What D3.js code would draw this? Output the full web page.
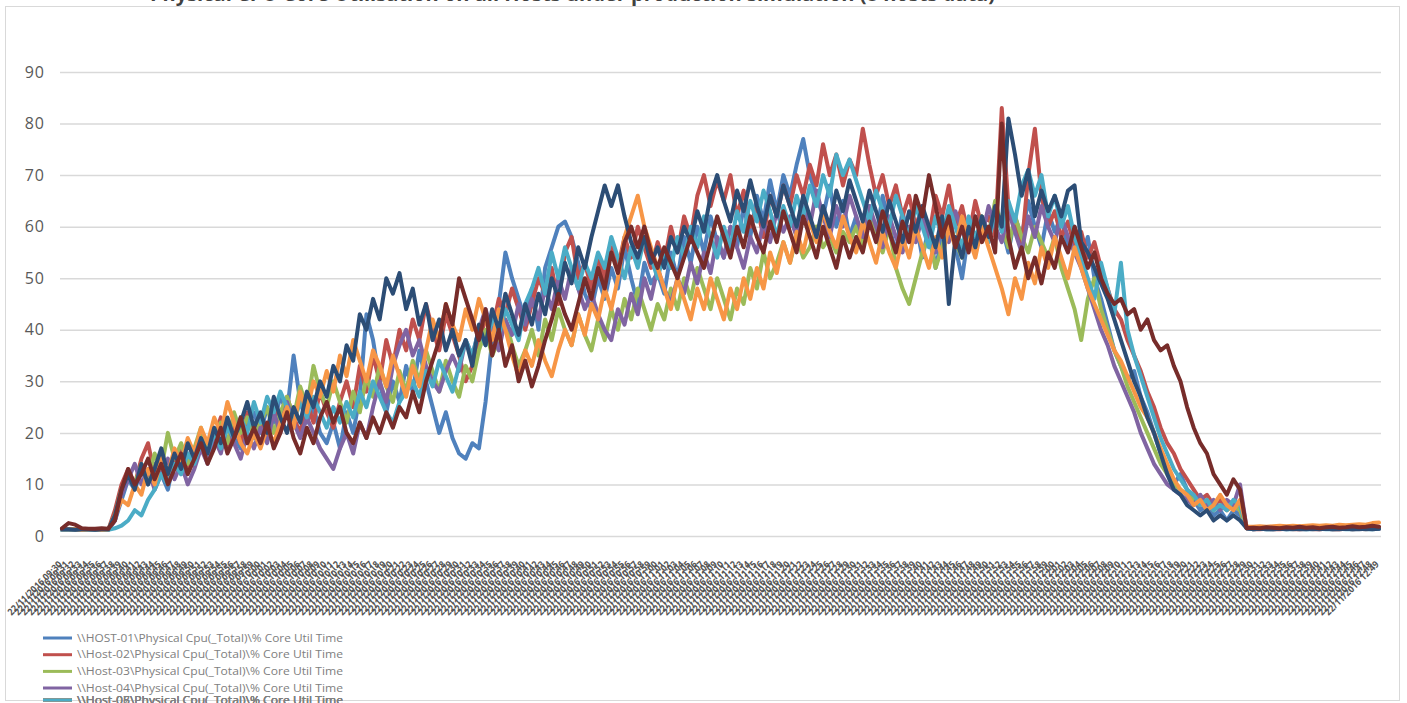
<!DOCTYPE html>
<html><head><meta charset="utf-8">
<script src="https://cdn.jsdelivr.net/npm/d3@7"></script>
<style>
body{margin:0;background:#fff;}
svg{display:block;font-family:"Open Sans",sans-serif;}
</style>
</head><body>
<svg id="chart" width="1407" height="703"></svg>
<script>
const titleText = "Physical CPU Core Utilisation on all Hosts under production simulation (8 hosts data)";
const yTicks = [0,10,20,30,40,50,60,70,80,90];
const seriesNames = [
  "\\\\HOST-01\\Physical Cpu(_Total)\\% Core Util Time",
  "\\\\Host-02\\Physical Cpu(_Total)\\% Core Util Time",
  "\\\\Host-03\\Physical Cpu(_Total)\\% Core Util Time",
  "\\\\Host-04\\Physical Cpu(_Total)\\% Core Util Time",
  "\\\\Host-05\\Physical Cpu(_Total)\\% Core Util Time",
  "\\\\Host-06\\Physical Cpu(_Total)\\% Core Util Time",
  "\\\\Host-07\\Physical Cpu(_Total)\\% Core Util Time",
  "\\\\Host-08\\Physical Cpu(_Total)\\% Core Util Time"
];
const seriesColors = ["#4F81BD","#C0504D","#9BBB59","#8064A2","#4BACC6","#F79646","#2C4D75","#772C2A"];

const host01 = [1.2,1.3,1.2,1.2,1.3,1.2,1.2,1.3,3,7,
 11,9,13,10,14,12,9,15,12,16,
 14,18,15,20,17,22,19,17,21,24,
 20,25,22,27,24,35,26,22,25,20,
 18,22,17,24,20,27,43,38,30,24,
 30,26,33,28,36,30,25,20,24,19,
 16,15,18,17,26,38,45,55,50,46,
 42,48,40,52,56,60,61,58,53,47,
 44,50,46,52,48,56,50,45,53,49,
 51,47,55,50,58,53,60,55,62,57,
 54,60,56,64,58,66,61,69,63,70,
 66,72,77,70,66,62,68,60,65,58,
 62,56,64,58,66,60,55,63,57,61,
 54,60,52,58,63,56,50,59,55,62,
 57,64,60,55,62,58,65,60,56,63,
 59,62,56,60,54,58,50,46,41,36,
 33,30,32,27,24,20,16,13,10,12,
 9,7,5,6,4,5,3,5,4,1.5,
 1.4,1.5,1.4,1.5,1.5,1.4,1.5,1.4,1.5,1.5,
 1.5,1.4,1.5,1.5,1.4,1.5,1.5,1.4,1.5,1.5];
const host02 = [1.3,1.3,1.2,1.3,1.2,1.3,1.3,1.2,5,10,
 13,10,15,18,12,16,11,14,17,13,
 16,20,15,19,23,17,21,18,24,20,
 23,19,25,21,27,23,20,26,22,28,
 24,21,26,30,25,33,28,35,30,38,
 33,40,36,42,38,45,40,36,43,39,
 35,30,33,38,42,40,46,43,48,44,
 40,45,50,47,52,45,55,58,50,53,
 48,54,50,56,52,58,54,60,56,52,
 57,53,60,55,62,58,66,70,64,69,
 65,70,62,67,60,64,58,66,62,68,
 64,70,66,72,68,76,70,74,68,73,
 70,79,72,66,70,64,68,62,66,60,
 64,58,66,62,68,60,64,58,65,60,
 62,58,83,64,60,56,70,79,66,60,
 63,58,61,56,59,54,57,52,48,44,
 42,38,35,32,28,25,21,18,16,13,
 11,9,7,8,6,7,5,6,5,1.5,
 1.3,1.3,1.4,1.3,1.3,1.4,1.3,1.3,1.4,1.3,
 1.3,1.4,1.3,1.3,1.4,1.3,1.4,1.3,1.4,1.4];
const host03 = [1.2,1.2,1.3,1.2,1.2,1.3,1.2,1.2,4,9,
 12,10,14,11,16,13,20,15,18,14,
 17,21,16,19,22,18,24,20,23,19,
 22,25,20,24,27,23,29,25,33,28,
 25,30,26,22,28,24,31,27,33,29,
 26,32,28,34,30,36,32,28,34,30,
 27,33,30,36,40,35,38,42,37,33,
 36,40,35,42,38,44,40,37,43,39,
 36,42,38,44,40,46,42,48,44,40,
 45,42,48,44,50,46,52,48,44,50,
 46,42,48,45,52,48,55,50,53,57,
 53,58,54,56,60,56,58,55,59,57,
 60,56,62,58,55,60,52,48,45,50,
 55,58,52,56,61,57,54,60,56,62,
 58,65,60,56,62,58,55,60,57,54,
 58,52,48,44,38,46,50,44,40,36,
 33,29,26,23,20,17,14,12,10,9,
 8,7,6,7,5,6,5,6,5,1.5,
 1.5,1.4,1.5,1.5,1.4,1.5,1.5,1.4,1.5,1.4,
 1.5,1.5,1.4,1.5,1.5,1.4,1.5,1.5,1.4,1.5];
const host04 = [1.2,1.2,1.2,1.3,1.2,1.2,1.3,1.2,3,8,
 11,14,10,13,9,12,15,11,14,10,
 13,17,14,19,16,22,18,15,20,17,
 21,18,24,20,26,22,19,23,20,17,
 15,13,17,20,16,22,19,25,30,26,
 33,37,40,35,38,33,30,28,32,35,
 32,38,35,40,44,40,36,42,39,45,
 41,46,42,48,44,50,46,52,48,44,
 47,43,40,38,44,41,47,43,50,46,
 52,48,45,50,47,53,49,55,51,58,
 54,60,56,52,58,55,61,57,63,59,
 62,58,65,60,67,62,58,64,60,66,
 62,58,64,60,56,62,58,55,60,57,
 62,58,55,61,57,63,59,56,62,58,
 64,60,57,63,59,55,62,58,64,60,
 57,62,58,55,52,48,44,40,37,33,
 30,27,24,20,17,14,12,10,9,8,
 7,6,8,6,7,5,7,6,10,1.5,
 1.4,1.4,1.5,1.4,1.4,1.5,1.4,1.4,1.5,1.4,
 1.4,1.5,1.4,1.4,1.5,1.4,1.4,1.5,1.4,1.4];
const host05 = [1.2,1.2,1.2,1.2,1.2,1.2,1.2,1.2,1.5,2,
 3,5,4,7,9,12,10,14,12,16,
 14,18,16,20,17,21,19,23,20,26,
 22,27,24,28,25,22,26,23,27,24,
 21,25,22,26,23,28,25,30,27,24,
 22,26,28,30,27,32,29,34,31,28,
 33,38,35,40,37,42,39,44,41,38,
 45,48,52,47,55,50,56,52,48,53,
 50,55,52,58,54,50,56,52,58,54,
 50,55,52,58,54,60,56,62,58,54,
 60,56,63,59,65,61,67,63,58,64,
 60,66,62,68,64,70,66,74,70,73,
 69,65,61,67,63,60,66,62,58,64,
 60,56,62,58,64,60,56,62,58,61,
 57,63,59,65,61,68,71,66,70,62,
 66,60,64,58,54,50,46,53,48,43,
 53,40,35,31,27,23,19,16,13,11,
 9,8,6,7,5,6,5,7,6,1.5,
 1.3,1.4,1.3,1.3,1.4,1.3,1.3,1.4,1.3,1.3,
 1.4,1.3,1.3,1.4,1.3,1.3,1.4,1.3,1.3,1.4];
const host06 = [1.3,1.3,1.3,1.2,1.3,1.3,1.2,1.3,4,7,
 6,10,8,13,10,15,12,17,14,19,
 16,21,18,23,20,26,22,18,16,20,
 17,21,18,22,25,21,28,24,30,27,
 32,28,35,31,38,34,30,36,33,29,
 35,31,27,33,29,36,42,38,45,41,
 38,44,40,46,42,38,44,40,35,31,
 36,33,38,34,31,36,40,37,43,39,
 45,42,48,44,50,58,62,66,60,56,
 52,48,44,50,46,42,48,44,50,46,
 42,48,44,50,46,52,48,55,51,57,
 53,59,55,61,57,63,59,56,62,58,
 55,61,57,53,59,55,52,58,54,60,
 56,52,58,54,60,56,62,58,54,60,
 56,52,48,43,50,46,53,49,56,52,
 58,54,50,56,52,48,45,42,39,36,
 34,31,28,25,23,20,17,14,11,9,
 8,6,7,5,6,8,6,5,7,1.8,
 1.8,1.9,1.8,1.9,2,1.9,2,1.9,2,2.1,
 2,2.1,2,2.2,2.1,2.2,2.3,2.2,2.5,2.6];
const host07 = [1.3,1.3,1.2,1.3,1.3,1.2,1.3,1.3,4,9,
 12,9,14,10,13,17,12,16,13,18,
 15,19,16,21,18,23,19,22,26,21,
 24,20,27,23,20,25,22,28,25,30,
 27,33,30,37,34,43,40,46,42,50,
 47,51,44,48,41,45,38,42,36,40,
 35,38,33,41,37,44,40,47,43,39,
 45,41,47,43,50,46,53,49,56,52,
 58,63,68,64,68,62,57,54,58,53,
 56,52,58,55,60,57,63,59,66,70,
 65,61,67,63,69,64,60,66,62,68,
 64,60,66,62,58,64,60,67,63,69,
 65,61,67,63,59,65,61,57,63,59,
 64,60,56,62,45,58,54,60,56,62,
 58,64,60,81,74,66,71,62,67,63,
 66,62,67,68,57,55,52,49,46,42,
 38,34,30,27,23,20,16,12,9,8,
 6,5,4,5,3,4,3,4,3,1.5,
 1.3,1.4,1.3,1.3,1.4,1.3,1.4,1.3,1.3,1.4,
 1.3,1.4,1.3,1.3,1.4,1.3,1.3,1.4,1.3,1.4];
const host08 = [1.5,2.5,2.2,1.5,1.4,1.4,1.5,1.4,3,9,
 13,10,12,15,11,14,10,13,16,12,
 15,18,14,17,21,16,19,23,18,21,
 18,22,17,20,24,19,16,21,18,23,
 26,22,25,20,18,22,19,23,20,24,
 21,25,23,28,24,30,34,38,45,41,
 50,46,42,38,44,35,40,33,37,30,
 34,29,33,38,42,47,43,40,45,50,
 46,52,48,55,51,57,60,56,60,55,
 52,56,53,50,54,58,55,52,57,62,
 58,54,60,56,62,58,55,61,57,63,
 59,55,62,58,54,60,56,52,58,54,
 58,55,61,57,63,59,55,61,57,66,
 62,70,64,58,62,56,60,55,62,57,
 60,55,80,58,52,56,50,54,49,55,
 52,58,55,60,56,52,55,50,47,45,
 46,43,44,40,42,38,36,37,33,30,
 25,21,18,16,12,10,8,11,9,1.5,
 1.6,1.5,1.7,1.6,1.5,1.7,1.6,1.8,1.6,1.7,
 1.5,1.7,1.8,1.6,1.7,1.9,1.7,1.8,2,1.8];

const seriesValues = [host01, host02, host03, host04, host05, host06, host07, host08];

// sample timestamps (one perfmon sample per minute)
const sampleStart = Date.UTC(2016, 10, 22, 9, 30, 0);
const sampleFmt = d3.utcFormat("%d/%m/%Y %H:%M");
const categories = host01.map((_, i) => sampleFmt(new Date(sampleStart + i * 60000)));

const svg = d3.select("#chart");

// frame
svg.append("rect").attr("x", 5.5).attr("y", 6.5).attr("width", 1394).attr("height", 694)
  .attr("fill", "#fff").attr("stroke", "#d9d9d9").attr("stroke-width", 1);

// title (cut off at the top in the reference)
svg.append("text").attr("x", 150).attr("y", 0.5)
  .attr("textLength", 845).attr("lengthAdjust", "spacingAndGlyphs")
  .attr("fill", "#404040").attr("font-size", 20).attr("font-weight", "bold")
  .text(titleText);

const x = d3.scalePoint().domain(categories).range([60, 1381]).padding(0.3);
const y = d3.scaleLinear().domain([0, 90]).range([536, 72]);

// y axis with gridlines
const yAxis = svg.append("g").attr("transform", "translate(60,0)")
  .call(d3.axisLeft(y).tickValues(yTicks).tickSize(-1321).tickPadding(15));
yAxis.select(".domain").remove();
yAxis.selectAll(".tick line").attr("stroke", "#d9d9d9").attr("stroke-width", 1.5);
yAxis.selectAll(".tick text").attr("fill", "#595959").attr("font-size", 16)
  .attr("letter-spacing", 1)
  .attr("font-family", "'Open Sans', sans-serif");

// x axis labels (dense, overlapping category labels)
const xAxis = svg.append("g").attr("transform", "translate(0,536)")
  .call(d3.axisBottom(x).tickSize(0));
xAxis.select(".domain").remove();
xAxis.selectAll(".tick text")
  .attr("y", 0).attr("dy", 0).attr("x", 0)
  .attr("transform", "translate(0,29) rotate(-45)")
  .style("text-anchor", "end")
  .attr("textLength", 72).attr("lengthAdjust", "spacingAndGlyphs")
  .attr("fill", "#555").attr("font-size", 9.5).attr("font-weight", "bold")
  .attr("font-family", "'Open Sans', sans-serif");

// lines
const line = d3.line().x((d, i) => x(categories[i])).y(d => y(d));
svg.append("g").selectAll("path").data(seriesValues).join("path")
  .attr("d", line).attr("fill", "none")
  .attr("stroke", (d, i) => seriesColors[i])
  .attr("stroke-width", 4).attr("stroke-linejoin", "round").attr("stroke-linecap", "round");

// legend (last rows overlap, Host-05 on top)
const legendRows = [638, 654.7, 671.4, 688, 700, 700, 700, 700];
const legendOrder = [0, 1, 2, 3, 7, 6, 5, 4];
const lg = svg.append("g").selectAll("g").data(legendOrder).join("g")
  .attr("transform", k => `translate(43,${legendRows[k]})`);
lg.append("line").attr("x1", 0).attr("x2", 29).attr("y1", 0).attr("y2", 0)
  .attr("stroke", k => seriesColors[k]).attr("stroke-width", 3);
lg.append("text").attr("x", 34).attr("y", 0).attr("dy", "0.35em")
  .attr("textLength", 266).attr("lengthAdjust", "spacingAndGlyphs")
  .attr("fill", "#808080").attr("font-size", 10.5)
  .attr("font-family", "'Open Sans', sans-serif")
  .text(k => seriesNames[k]);
</script>
</body></html>
